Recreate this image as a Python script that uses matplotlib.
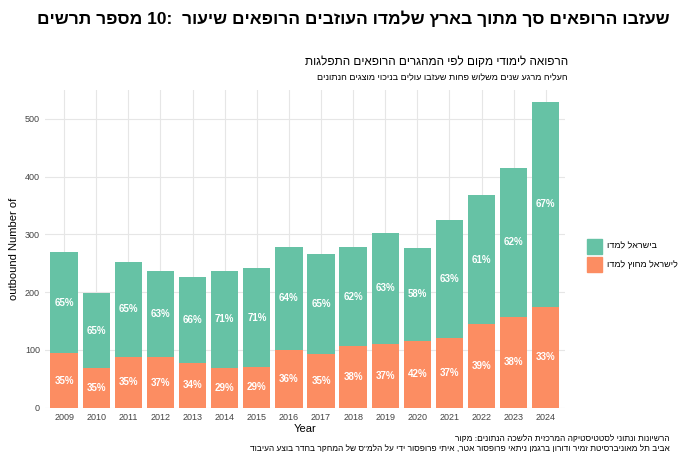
import matplotlib.pyplot as plt

plt.rcParams['font.family'] = ['Liberation Sans', 'DejaVu Sans']

years = [2009, 2010, 2011, 2012, 2013, 2014, 2015, 2016, 2017, 2018, 2019, 2020, 2021, 2022, 2023, 2024]
totals = [270, 198, 253, 236, 226, 237, 242, 279, 266, 278, 302, 277, 325, 369, 415, 530]
abroad = [94, 69, 88, 87, 77, 69, 70, 100, 93, 106, 111, 116, 120, 144, 157, 175]
pct_abroad = [35, 35, 35, 37, 34, 29, 29, 36, 35, 38, 37, 42, 37, 39, 38, 33]
pct_israel = [65, 65, 65, 63, 66, 71, 71, 64, 65, 62, 63, 58, 63, 61, 62, 67]
israel = [t - a for t, a in zip(totals, abroad)]


def heb(s):
    # reverse letters inside each word, keep word order (as in the source picture)
    out = []
    for w in s.split(' '):
        if any('\u0590' <= c <= '\u05ff' for c in w):
            out.append(w[::-1])
        else:
            out.append(w)
    return ' '.join(out)


green = '#66c2a5'
orange = '#fc8d62'

fig = plt.figure(figsize=(6.8, 4.57), dpi=100)
ax = fig.add_axes([0.066, 0.108, 0.765, 0.695])

x = list(range(len(years)))
ax.bar(x, abroad, width=0.85, color=orange, zorder=2)
ax.bar(x, israel, bottom=abroad, width=0.85, color=green, zorder=2)
for i in x:
    ax.text(i, abroad[i] / 2, f'{pct_abroad[i]}%', ha='center', va='center',
            color='white', fontsize=7, fontweight='bold')
    ax.text(i, abroad[i] + israel[i] / 2, f'{pct_israel[i]}%', ha='center', va='center',
            color='white', fontsize=7, fontweight='bold')

ax.set_xticks(x)
ax.set_xticklabels([str(y) for y in years], fontsize=6.5, color='#444444')
ax.tick_params(axis='y', labelsize=6.5, colors='#444444')
ax.tick_params(length=0)
ax.set_xlim(-0.6, len(years) - 0.4)
ax.set_ylim(0, 550)
ax.set_yticks([0, 100, 200, 300, 400, 500])
ax.yaxis.grid(True, color='#e6e6e6', linewidth=0.8, zorder=0)
ax.xaxis.grid(True, color='#e6e6e6', linewidth=0.8, zorder=0)
ax.set_axisbelow(True)
for s in ax.spines.values():
    s.set_visible(False)
ax.set_xlabel('Year', fontsize=8, labelpad=2)
ax.set_ylabel('outbound Number of', fontsize=8)

# legend
lx, ly = 0.863, 0.445
fig.patches.append(plt.Rectangle((lx, ly), 0.022, 0.033, color=green, transform=fig.transFigure))
fig.patches.append(plt.Rectangle((lx, ly - 0.04), 0.022, 0.033, color=orange, transform=fig.transFigure))
fig.text(lx + 0.03, ly + 0.016, heb('למדו בישראל'), fontsize=6.5, va='center')
fig.text(lx + 0.03, ly - 0.024, heb('למדו מחוץ לישראל'), fontsize=6.5, va='center')

fig.text(0.985, 0.96, heb('תרשים מספר 10:  שיעור הרופאים העוזבים שלמדו בארץ מתוך סך הרופאים שעזבו'),
         ha='right', va='center', fontsize=12.5, fontweight='bold')
fig.text(0.835, 0.865, heb('התפלגות הרופאים המהגרים לפי מקום לימודי הרפואה'),
         ha='right', va='center', fontsize=8.5)
fig.text(0.835, 0.83, heb('הנתונים מוצגים בניכוי עולים שעזבו פחות משלוש שנים מרגע העליה'),
         ha='right', va='center', fontsize=6.5)
fig.text(0.985, 0.04, heb('מקור הנתונים: הלשכה המרכזית לסטטיסטיקה ונתוני הרשיונות'),
         ha='right', va='center', fontsize=6)
fig.text(0.985, 0.017, heb('העיבוד בוצע בחדר המחקר של הלמ"ס על ידי פרופסור איתי אטר, פרופסור ניתאי ברגמן ודורון זמיר מאוניברסיטת תל אביב'),
         ha='right', va='center', fontsize=6)

fig.savefig('out.png', dpi=100)
